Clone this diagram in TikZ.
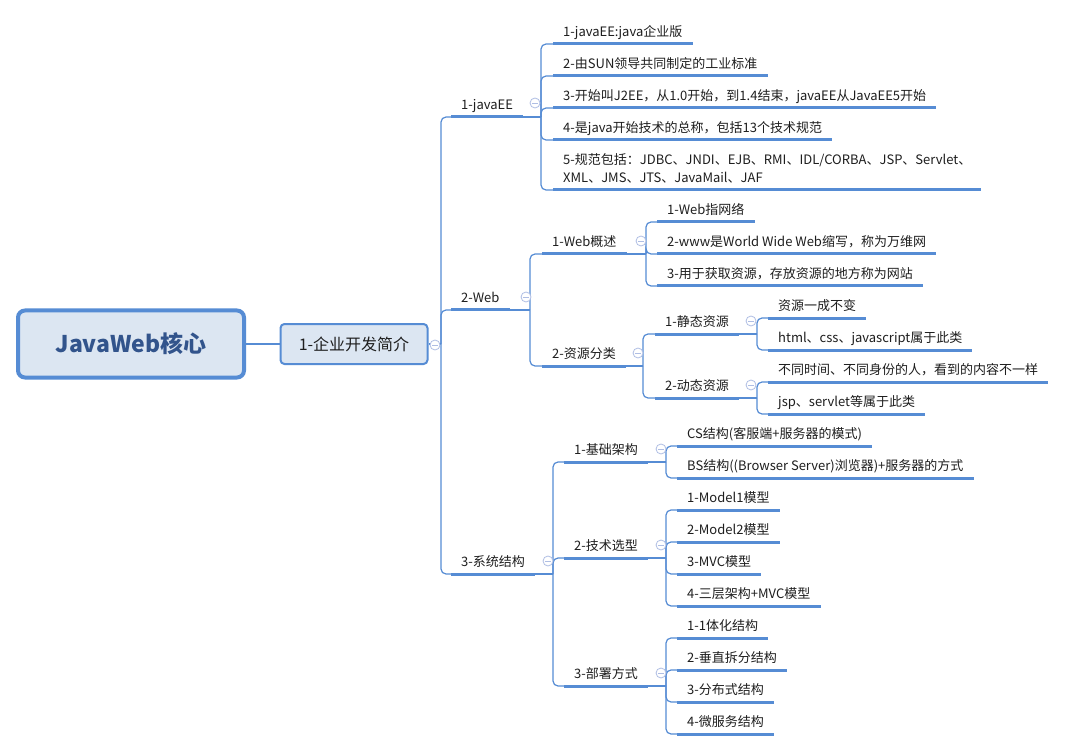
\documentclass[tikz,border=0pt]{standalone}
\usepackage{fontspec}
\setmainfont{Noto Sans CJK SC}

\definecolor{lineblue}{RGB}{86,140,212}
\definecolor{boxfill}{RGB}{220,230,242}
\definecolor{roottext}{RGB}{50,84,140}
\definecolor{foldc}{RGB}{175,190,228}
\definecolor{txt}{RGB}{30,30,30}

\newcommand{\lstrut}{\rule[-3pt]{0pt}{13pt}}

\begin{document}
\begin{tikzpicture}[x=1pt,y=-1pt,
  root/.style={draw=lineblue, line width=4pt, fill=boxfill, rounded corners=7pt,
    minimum width=226pt, minimum height=67pt,
    font=\fontsize{23}{28}\selectfont\bfseries, text=roottext},
  topic/.style={draw=lineblue, line width=2pt, fill=boxfill, rounded corners=4pt,
    minimum width=147pt, minimum height=40pt,
    font=\fontsize{16}{20}\selectfont, text=txt},
  lbl/.style={anchor=south west, inner xsep=10pt, inner ysep=4pt, align=left,
    font=\fontsize{13}{18}\selectfont, text=txt,
    execute at begin node=\lstrut, execute at end node=\lstrut},
  uline/.style={lineblue, line width=3pt},
  conn/.style={lineblue, line width=1.2pt, rounded corners=5pt},
  fold/.style={circle, draw=foldc, fill=white, line width=0.8pt, minimum size=10pt, inner sep=0pt,
    path picture={\draw[foldc, line width=0.8pt]
      ([xshift=-2.6pt]path picture bounding box.center) -- ([xshift=2.6pt]path picture bounding box.center);}}
]

\fill[white] (0,0) rectangle (1068,751);
\useasboundingbox (0,0) rectangle (1068,751);

% --- Centro ---
\node[root] (root) at (131,344) {JavaWeb核心};
\node[topic] (intro) at (354,344) {1-企业开发简介};

% --- Primo livello ---
\node[lbl] (jee) at (451,117) {1-javaEE};
\node[lbl] (web) at (451,310) {2-Web};
\node[lbl] (sys) at (451,574) {3-系统结构};

% --- javaEE ---
\node[lbl] (j1) at (553,44) {1-javaEE:java企业版};
\node[lbl] (j2) at (553,76) {2-由SUN领导共同制定的工业标准};
\node[lbl] (j3) at (553,108) {3-开始叫J2EE，从1.0开始，到1.4结束，javaEE从JavaEE5开始};
\node[lbl] (j4) at (553,140) {4-是java开始技术的总称，包括13个技术规范};
\node[lbl] (j5) at (553,190) {5-规范包括：JDBC、JNDI、EJB、RMI、IDL/CORBA、JSP、Servlet、\\XML、JMS、JTS、JavaMail、JAF};

% --- Web ---
\node[lbl] (wov) at (542,254) {1-Web概述};
\node[lbl] (res) at (542,366) {2-资源分类};
\node[lbl] (w1) at (657,222) {1-Web指网络};
\node[lbl] (w2) at (657,254) {2-www是World Wide Web缩写，称为万维网};
\node[lbl] (w3) at (657,286) {3-用于获取资源，存放资源的地方称为网站};
\node[lbl] (sta) at (655,334) {1-静态资源};
\node[lbl] (dyn) at (655,398) {2-动态资源};
\node[lbl] (s1) at (768,318) {资源一成不变};
\node[lbl] (s2) at (768,350) {html、css、javascript属于此类};
\node[lbl] (d1) at (768,382) {不同时间、不同身份的人，看到的内容不一样};
\node[lbl] (d2) at (768,414) {jsp、servlet等属于此类};

% --- Sistema ---
\node[lbl] (arch) at (564,462) {1-基础架构};
\node[lbl] (tech) at (564,558) {2-技术选型};
\node[lbl] (dep) at (564,686) {3-部署方式};
\node[lbl] (a1) at (677,446) {CS结构(客服端+服务器的模式)};
\node[lbl] (a2) at (677,478) {BS结构((Browser Server)浏览器)+服务器的方式};
\node[lbl] (t1) at (677,510) {1-Model1模型};
\node[lbl] (t2) at (677,542) {2-Model2模型};
\node[lbl] (t3) at (677,574) {3-MVC模型};
\node[lbl] (t4) at (677,606) {4-三层架构+MVC模型};
\node[lbl] (p1) at (677,638) {1-1体化结构};
\node[lbl] (p2) at (677,670) {2-垂直拆分结构};
\node[lbl] (p3) at (677,702) {3-分布式结构};
\node[lbl] (p4) at (677,734) {4-微服务结构};

% --- Sottolineature ---
\foreach \n in {jee,web,sys,j1,j2,j3,j4,j5,wov,res,w1,w2,w3,sta,dyn,s1,s2,d1,d2,
                arch,tech,dep,a1,a2,t1,t2,t3,t4,p1,p2,p3,p4}
  \draw[uline] (\n.south west) -- (\n.south east);

% --- Rami ---
\coordinate (tb) at (441,344);
\coordinate (jb) at (541,117);
\coordinate (wb) at (530,310);
\coordinate (yb) at (553,574);
\coordinate (ovb) at (646,254);
\coordinate (rb) at (643,366);
\coordinate (sb) at (757,334);
\coordinate (db) at (757,398);
\coordinate (ab) at (666,462);
\coordinate (teb) at (666,558);
\coordinate (pb) at (666,686);

\draw[lineblue, line width=1.2pt] (root.east) -- (intro.west);
\draw[conn] (intro.east) -- (tb);
\foreach \c in {jee,web,sys} \draw[conn] (tb) |- (\c.south west);

\draw[conn] (jee.south east) -- (jb);
\foreach \c in {j1,j2,j3,j4,j5} \draw[conn] (jb) |- (\c.south west);

\draw[conn] (web.south east) -- (wb);
\foreach \c in {wov,res} \draw[conn] (wb) |- (\c.south west);
\draw[conn] (wov.south east) -- (ovb);
\foreach \c in {w1,w2,w3} \draw[conn] (ovb) |- (\c.south west);
\draw[conn] (res.south east) -- (rb);
\foreach \c in {sta,dyn} \draw[conn] (rb) |- (\c.south west);
\draw[conn] (sta.south east) -- (sb);
\foreach \c in {s1,s2} \draw[conn] (sb) |- (\c.south west);
\draw[conn] (dyn.south east) -- (db);
\foreach \c in {d1,d2} \draw[conn] (db) |- (\c.south west);

\draw[conn] (sys.south east) -- (yb);
\foreach \c in {arch,tech,dep} \draw[conn] (yb) |- (\c.south west);
\draw[conn] (arch.south east) -- (ab);
\foreach \c in {a1,a2} \draw[conn] (ab) |- (\c.south west);
\draw[conn] (tech.south east) -- (teb);
\foreach \c in {t1,t2,t3,t4} \draw[conn] (teb) |- (\c.south west);
\draw[conn] (dep.south east) -- (pb);
\foreach \c in {p1,p2,p3,p4} \draw[conn] (pb) |- (\c.south west);

% --- Simboli di chiusura ---
\node[fold] (fi) at (435,345) {};
\node[fold] (fj) at (535,103) {};
\node[fold] (fw) at (526,297) {};
\node[fold] (fy) at (548,561) {};
\node[fold] (fo) at (641,241) {};
\node[fold] (fr) at (638,353) {};
\node[fold] (fs) at (751,321) {};
\node[fold] (fd) at (751,385) {};
\node[fold] (fa) at (661,449) {};
\node[fold] (ft) at (661,545) {};
\node[fold] (fp) at (661,673) {};

\end{tikzpicture}
\end{document}
